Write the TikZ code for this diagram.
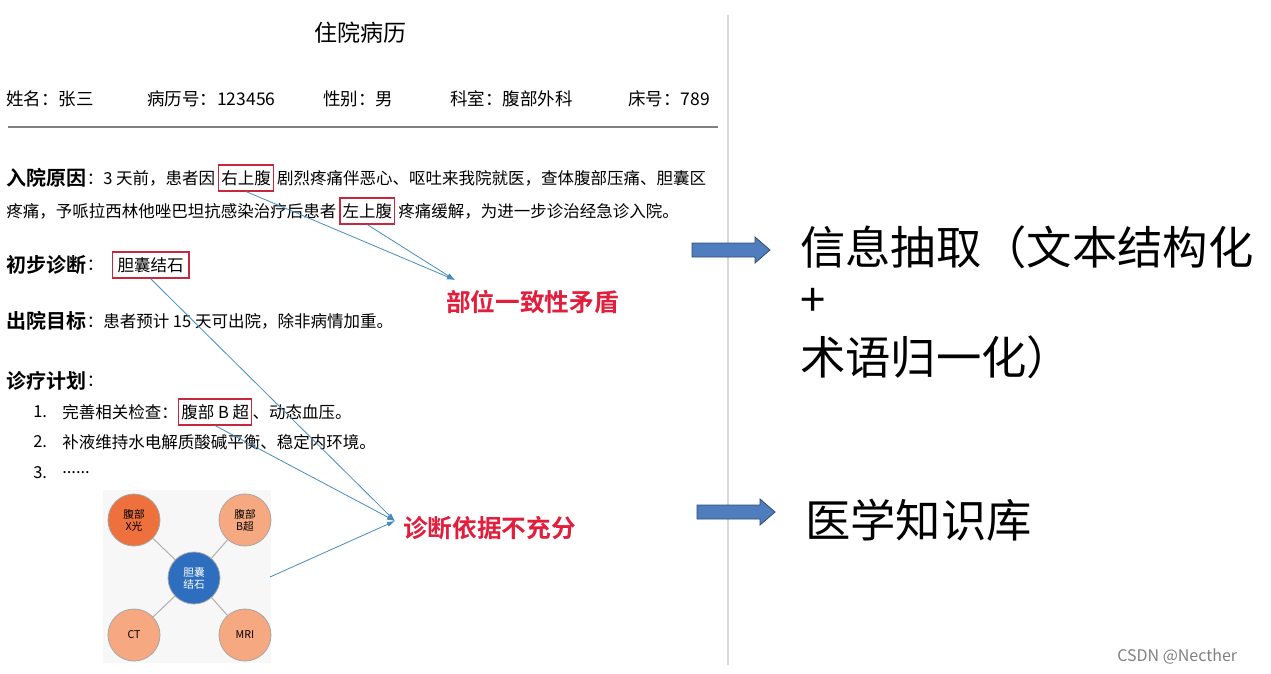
\documentclass[tikz,border=0pt]{standalone}
\usepackage{fontspec}
\setmainfont{Noto Sans CJK SC}[BoldFont={Noto Sans CJK SC Bold}]
\usetikzlibrary{shapes.arrows,arrows.meta}
\definecolor{lnk}{RGB}{70,140,190}
\definecolor{redlab}{RGB}{225,30,60}
\definecolor{boxred}{RGB}{200,40,60}
\definecolor{blk}{RGB}{80,125,190}
\newcommand\pxf[1]{\fontsize{\dimexpr #1pt*3/4\relax}{\dimexpr #1pt*9/10\relax}\selectfont}
\tikzset{
 px/.style={font=\pxf{#1}},
 pxb/.style={font=\pxf{#1}\bfseries},
 txt/.style={anchor=west,inner sep=0pt},
 bt/.style={anchor=west,inner sep=0pt,font=\pxf{16.5}},
 hbox/.style={anchor=west,draw=boxred,line width=1pt,inner xsep=2pt,inner ysep=4pt,font=\pxf{16.5}},
 lk/.style={draw=lnk,line width=0.6pt,-{Latex[length=6pt,width=4pt]}},
 cir/.style={circle,draw=gray!70,line width=0.6pt,minimum size=39pt,inner sep=0pt,align=center,font=\fontsize{8}{9}\selectfont},
 red/.style={txt,text=redlab,font=\fontsize{18.5}{20}\selectfont\bfseries},
 big/.style={txt,font=\fontsize{34}{38}\selectfont},
 barr/.style={fill=blk,draw=blk!60!black,line width=0.6pt},
}
\begin{document}
\begin{tikzpicture}[x=0.75pt,y=-0.75pt]
\useasboundingbox (0,0) rectangle (1271,674);
\node[px=23] (title) at (360,33) {住院病历};
\foreach \x/\t [count=\i] in {6/姓名：张三,147/病历号：123456,323/性别：男,450/科室：腹部外科,628/床号：789}
  \node[txt,px=17.5] (h\i) at (\x,99) {\t};
\draw[gray,line width=0.8pt] (8,127) -- (718,127);
% section 1
\node[txt,pxb=20] (s1) at (6,178) {入院原因};
\node[bt] (s1a) at (s1.east) {：3 天前，患者因};
\node[hbox] (b1) at ([xshift=2pt]s1a.east) {右上腹};
\node[bt] (s1b) at ([xshift=2pt]b1.east) {剧烈疼痛伴恶心、呕吐来我院就医，查体腹部压痛、胆囊区};
\node[bt] (s1c) at (6,211) {疼痛，予哌拉西林他唑巴坦抗感染治疗后患者};
\node[hbox] (b2) at ([xshift=2pt]s1c.east) {左上腹};
\node[bt] (s1d) at ([xshift=2pt]b2.east) {疼痛缓解，为进一步诊治经急诊入院。};
\node[txt,pxb=20] (s2) at (6,265) {初步诊断};
\node[bt] (s2a) at (s2.east) {：};
\node[hbox,inner xsep=4pt] (b3) at ([xshift=6pt]s2a.east) {胆囊结石};
\node[txt,pxb=20] (s3) at (6,321) {出院目标};
\node[bt] (s3t) at (s3.east) {：患者预计 15 天可出院，除非病情加重。};
\node[txt,pxb=20] (s4) at (6,381) {诊疗计划};
\node[bt] (s4t) at (s4.east) {：};
\node[bt] (l1) at (33,412) {1.};
\node[bt] (l1a) at (62,412) {完善相关检查：};
\node[hbox] (b4) at (l1a.east) {腹部 B 超};
\node[bt] (l1b) at (b4.east) {、动态血压。};
\node[bt] (l2) at (33,442) {2.};
\node[bt] (l2a) at (62,442) {补液维持水电解质酸碱平衡、稳定内环境。};
\node[bt] (l3) at (33,473) {3.};
\node[bt] (l3a) at (62,473) {......};
% red labels
\coordinate (t1) at (455,280);
\coordinate (t2) at (395,521);
\node[red] (r1) at (446,302) {部位一致性矛盾};
\node[red] (r2) at (403,528) {诊断依据不充分};
% graph picture
\fill[gray!6] (103,490) rectangle (271,663);
\node[cir,fill={rgb,255:red,45;green,110;blue,190},text=white] (c0) at (194,578) {胆囊\\结石};
\node[cir,fill={rgb,255:red,238;green,112;blue,60}] (c1) at (134,520) {腹部\\X光};
\node[cir,fill={rgb,255:red,246;green,168;blue,128}] (c2) at (245,520) {腹部\\B超};
\node[cir,fill={rgb,255:red,246;green,168;blue,128}] (c3) at (134,635) {CT};
\node[cir,fill={rgb,255:red,246;green,168;blue,128}] (c4) at (245,635) {MRI};
\foreach \c in {c1,c2,c3,c4} \draw[gray!60,line width=0.8pt] (c0) -- (\c);
\coordinate (gsrc) at (270,577);
% links
\draw[lk] (b1.south) -- (t1);
\draw[lk] (b2.south) -- (t1);
\draw[lk] (b3.south) -- (t2);
\draw[lk] (b4.south) -- (t2);
\draw[lk] (gsrc) -- (t2);
% divider
\draw[gray!30,line width=0.8pt] (728,15) -- (728,665);
% block arrows
\draw[barr] (692,243) -- (755,243) -- (755,237) -- (770,250) -- (755,263) -- (755,257) -- (692,257) -- cycle;
\draw[barr] (697,505) -- (760,505) -- (760,499) -- (775,512) -- (760,525) -- (760,519) -- (697,519) -- cycle;
\node[big] (k1) at (800,247) {信息抽取（文本结构化};
\node[big] (k2) at (800,302) {+};
\node[big] (k3) at (800,357) {术语归一化）};
\node[big] (k4) at (805,520) {医学知识库};
\node[txt,px=16,text=gray] (wm) at (1117,657) {CSDN @Necther};
\end{tikzpicture}
\end{document}
